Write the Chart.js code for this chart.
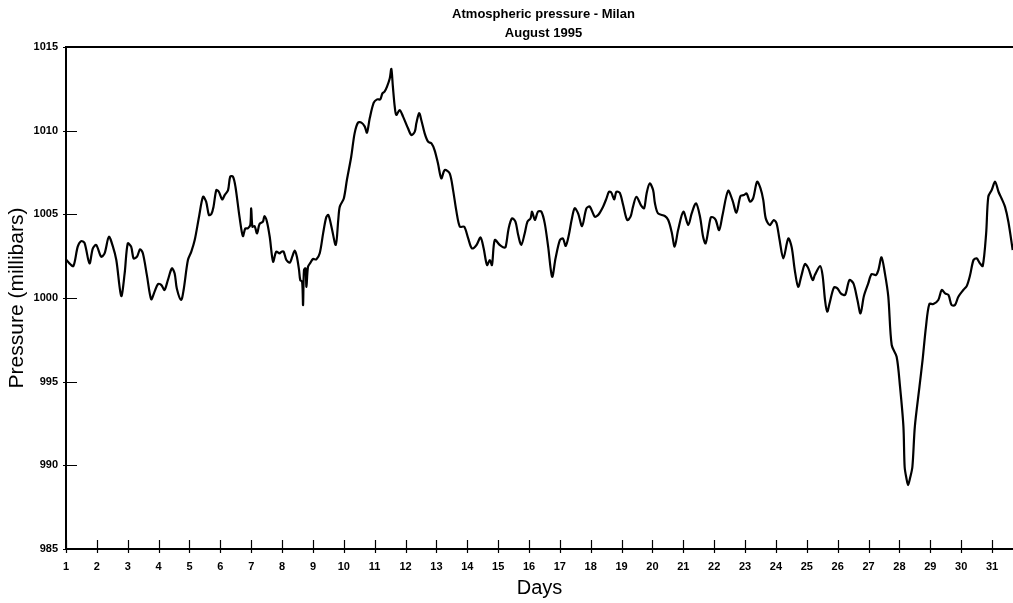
<!DOCTYPE html>
<html>
<head>
<meta charset="utf-8">
<script src="https://cdn.jsdelivr.net/npm/chart.js@4"></script>
<style>
  html, body { margin: 0; padding: 0; background: #fff; }
  #wrap { width: 1013px; height: 603px; position: relative; }
</style>
</head>
<body>
<div id="wrap"><canvas id="pressureChart"></canvas></div>
<script>
// Atmospheric pressure, Milan, August 1995
const titleLines = ['Atmospheric pressure - Milan', 'August 1995'];

const days = [
  1.00, 1.11, 1.24, 1.38, 1.49, 1.60, 1.76, 1.87, 1.98, 2.14, 2.25, 2.39, 2.52, 2.63, 2.79, 2.90,
  3.00, 3.11, 3.19, 3.30, 3.40, 3.49, 3.62, 3.76, 3.87, 3.98, 4.09, 4.19, 4.30, 4.43, 4.52, 4.59,
  4.73, 4.81, 4.95, 5.06, 5.17, 5.31, 5.44, 5.54, 5.63, 5.71, 5.78, 5.87, 5.95, 6.06, 6.14, 6.25,
  6.32, 6.41, 6.49, 6.62, 6.73, 6.81, 6.89, 6.97, 7.00, 7.04, 7.11, 7.19, 7.27, 7.38, 7.43, 7.51,
  7.60, 7.71, 7.81, 7.92, 7.98, 8.05, 8.14, 8.25, 8.33, 8.41, 8.48, 8.55, 8.59, 8.65, 8.68, 8.71,
  8.76, 8.79, 8.84, 8.92, 9.00, 9.11, 9.22, 9.33, 9.43, 9.50, 9.60, 9.74, 9.82, 9.87, 10.00, 10.10,
  10.24, 10.35, 10.46, 10.57, 10.68, 10.75, 10.84, 10.97, 11.08, 11.18, 11.25, 11.32, 11.40, 11.49,
  11.54, 11.59, 11.65, 11.70, 11.81, 11.92, 12.08, 12.19, 12.30, 12.35, 12.44, 12.51, 12.62, 12.73,
  12.84, 12.94, 13.05, 13.16, 13.27, 13.43, 13.54, 13.65, 13.76, 13.90, 14.03, 14.15, 14.30, 14.43,
  14.53, 14.64, 14.73, 14.80, 14.89, 15.05, 15.16, 15.24, 15.34, 15.45, 15.56, 15.65, 15.75, 15.86,
  15.95, 16.05, 16.10, 16.19, 16.29, 16.40, 16.51, 16.62, 16.75, 16.86, 17.00, 17.10, 17.19, 17.29,
  17.38, 17.48, 17.59, 17.72, 17.86, 17.97, 18.13, 18.24, 18.40, 18.51, 18.59, 18.67, 18.76, 18.83,
  18.94, 19.05, 19.18, 19.29, 19.37, 19.48, 19.64, 19.73, 19.81, 19.91, 20.02, 20.08, 20.18, 20.40,
  20.51, 20.62, 20.72, 20.83, 21.00, 21.16, 21.27, 21.41, 21.54, 21.64, 21.72, 21.81, 21.89, 21.97,
  22.05, 22.16, 22.27, 22.45, 22.59, 22.72, 22.85, 22.96, 23.05, 23.16, 23.26, 23.39, 23.50, 23.59,
  23.67, 23.80, 23.93, 24.02, 24.11, 24.24, 24.40, 24.51, 24.61, 24.72, 24.83, 24.94, 25.05, 25.19,
  25.26, 25.43, 25.51, 25.59, 25.66, 25.75, 25.88, 25.99, 26.10, 26.24, 26.38, 26.51, 26.64, 26.74,
  26.85, 26.99, 27.10, 27.24, 27.32, 27.42, 27.53, 27.64, 27.75, 27.91, 28.02, 28.13, 28.17, 28.23,
  28.28, 28.34, 28.42, 28.50, 28.65, 28.75, 28.86, 28.97, 29.10, 29.26, 29.37, 29.48, 29.59, 29.69,
  29.80, 29.91, 30.07, 30.18, 30.29, 30.40, 30.50, 30.61, 30.70, 30.81, 30.88, 30.99, 31.10, 31.21,
  31.31, 31.42, 31.53, 31.67
];

const pressure = [
  1002.31, 1002.07, 1001.91, 1003.07, 1003.40, 1003.30, 1002.07, 1002.97, 1003.17, 1002.47, 1002.67, 1003.66, 1003.07, 1002.27, 1000.12, 1001.47,
  1003.26, 1003.07, 1002.37, 1002.47, 1002.91, 1002.67, 1001.37, 999.92, 1000.38, 1000.83, 1000.77, 1000.48, 1001.07, 1001.77, 1001.47, 1000.57,
  999.88, 1000.48, 1002.27, 1002.77, 1003.46, 1004.86, 1006.05, 1005.76, 1004.96, 1005.02, 1005.46, 1006.45, 1006.35, 1005.89, 1006.15, 1006.45,
  1007.25, 1007.25, 1006.65, 1004.86, 1003.70, 1004.16, 1004.16, 1004.36, 1005.36, 1004.26, 1004.30, 1003.86, 1004.42, 1004.56, 1004.90, 1004.56,
  1003.66, 1002.17, 1002.77, 1002.67, 1002.77, 1002.77, 1002.27, 1002.11, 1002.47, 1002.83, 1002.47, 1001.67, 1001.07, 1000.97, 999.58, 1001.67,
  1001.77, 1000.67, 1001.87, 1002.11, 1002.33, 1002.31, 1002.67, 1003.86, 1004.82, 1004.96, 1004.26, 1003.17, 1004.66, 1005.46, 1005.95, 1007.05,
  1008.44, 1009.84, 1010.48, 1010.48, 1010.24, 1009.88, 1010.74, 1011.67, 1011.87, 1011.87, 1012.23, 1012.33, 1012.63, 1013.13,
  1013.69, 1012.63, 1011.43, 1010.94, 1011.23, 1010.84, 1010.14, 1009.74, 1009.94, 1010.44, 1011.04, 1010.64, 1009.84, 1009.34,
  1009.24, 1008.84, 1008.05, 1007.15, 1007.65, 1007.45, 1006.45, 1005.16, 1004.26, 1004.26, 1003.56, 1002.97, 1003.17, 1003.62,
  1002.97, 1001.97, 1002.27, 1001.97, 1003.46, 1003.17, 1003.03, 1003.03, 1004.16, 1004.76, 1004.56, 1003.76, 1003.17, 1003.86,
  1004.56, 1004.76, 1005.16, 1004.66, 1005.16, 1005.16, 1004.46, 1003.07, 1001.27, 1002.37, 1003.46, 1003.56, 1003.11, 1003.76,
  1004.66, 1005.36, 1005.06, 1004.30, 1005.36, 1005.46, 1004.86, 1004.96, 1005.46, 1005.95, 1006.35, 1006.29, 1005.89, 1006.35,
  1006.29, 1005.56, 1004.66, 1004.86, 1005.46, 1006.05, 1005.50, 1005.36, 1006.25, 1006.85, 1006.45, 1005.66, 1005.06, 1004.90,
  1004.66, 1003.96, 1003.07, 1004.06, 1005.16, 1004.36, 1005.06, 1005.66, 1004.86, 1003.66, 1003.26, 1004.06, 1004.82, 1004.82,
  1004.66, 1004.06, 1004.96, 1006.41, 1005.85, 1005.10, 1006.09, 1006.15, 1006.25, 1005.76, 1005.95, 1006.95, 1006.55, 1005.85,
  1004.76, 1004.36, 1004.66, 1004.46, 1003.56, 1002.37, 1003.56, 1003.03, 1001.67, 1000.67, 1001.37, 1002.03, 1001.77, 1001.07,
  1001.37, 1001.91, 1001.37, 999.88, 999.18, 999.78, 1000.63, 1000.58, 1000.28, 1000.18, 1001.07, 1000.87, 999.88, 999.08,
  1000.12, 1000.87, 1001.43, 1001.37, 1001.67, 1002.43, 1001.47, 1000.08, 997.19, 996.49, 994.70, 992.31, 989.90, 989.20,
  988.82, 989.20, 989.90, 992.31, 994.70, 996.29, 998.28, 999.64, 999.64, 999.88, 1000.48, 1000.28, 1000.18, 999.58,
  999.58, 1000.08, 1000.48, 1000.71, 1001.37, 1002.27, 1002.37, 1002.07, 1001.91, 1003.86, 1006.05, 1006.45, 1006.95, 1006.35,
  1005.95, 1005.46, 1004.56, 1002.87
];

const dayTicks = [1, 2, 3, 4, 5, 6, 7, 8, 9, 10, 11, 12, 13, 14, 15, 16, 17, 18, 19, 20,
  21, 22, 23, 24, 25, 26, 27, 28, 29, 30, 31];
const pressureTicks = [985, 990, 995, 1000, 1005, 1010, 1015];

const FONT = '"Liberation Sans", Arial, Helvetica, sans-serif';

// title, top frame line and inward tick marks
const framePlugin = {
  id: 'frame',
  afterDraw(chart) {
    const { ctx, chartArea: ca, scales } = chart;
    ctx.save();
    ctx.strokeStyle = '#000';
    ctx.lineWidth = 2;
    ctx.beginPath();
    ctx.moveTo(ca.left, ca.top);
    ctx.lineTo(ca.right, ca.top);
    ctx.stroke();

    ctx.lineWidth = 1.2;
    ctx.beginPath();
    scales.y.ticks.forEach(t => {
      const py = Math.round(scales.y.getPixelForValue(t.value)) + 0.5;
      ctx.moveTo(ca.left - 3, py);
      ctx.lineTo(ca.left + 11, py);
    });
    scales.x.ticks.forEach(t => {
      const px = Math.round(scales.x.getPixelForValue(t.value)) + 0.5;
      ctx.moveTo(px, ca.bottom - 9);
      ctx.lineTo(px, ca.bottom + 4);
    });
    ctx.stroke();

    ctx.fillStyle = '#000';
    ctx.font = 'bold 13px ' + FONT;
    ctx.textAlign = 'center';
    ctx.textBaseline = 'middle';
    const cx = (ca.left + ca.right) / 2 + 4;
    ctx.fillText(titleLines[0], cx, 14);
    ctx.fillText(titleLines[1], cx, 33);
    ctx.restore();
  }
};

const ctx = document.getElementById('pressureChart');
new Chart(ctx, {
  type: 'line',
  data: {
    datasets: [{
      label: 'Pressure',
      data: days.map((d, i) => ({ x: d, y: pressure[i] })),
      borderColor: '#000',
      borderWidth: 2.2,
      pointRadius: 0,
      tension: 0.3,
      fill: false
    }]
  },
  options: {
    responsive: true,
    maintainAspectRatio: false,
    animation: false,
    devicePixelRatio: 1,
    layout: { padding: { top: 47, left: 0, right: 0, bottom: 0 } },
    plugins: {
      legend: { display: false },
      title: { display: false },
      tooltip: { enabled: false }
    },
    scales: {
      x: {
        type: 'linear',
        min: 1,
        max: 31.68,
        afterBuildTicks: s => { s.ticks = dayTicks.map(v => ({ value: v })); },
        afterFit: s => { s.height = 54; },
        grid: { display: false },
        border: { display: true, color: '#000', width: 2 },
        ticks: {
          autoSkip: false,
          maxRotation: 0,
          padding: 3,
          color: '#000',
          font: { family: FONT, size: 11, weight: 'bold' },
          callback: v => String(v)
        },
        title: {
          display: true,
          text: 'Days',
          color: '#000',
          padding: { top: 0, bottom: 3 },
          font: { family: FONT, size: 20 }
        }
      },
      y: {
        min: 985,
        max: 1015,
        afterBuildTicks: s => { s.ticks = pressureTicks.map(v => ({ value: v })); },
        afterFit: s => { s.width = 66; },
        grid: { display: false },
        border: { display: true, color: '#000', width: 2 },
        ticks: {
          padding: 0,
          color: '#000',
          font: { family: FONT, size: 11, weight: 'bold' },
          callback: v => String(v)
        },
        title: {
          display: true,
          text: 'Pressure (millibars)',
          color: '#000',
          padding: { top: 5, bottom: 0 },
          font: { family: FONT, size: 21 }
        }
      }
    }
  },
  plugins: [framePlugin]
});
</script>
</body>
</html>
